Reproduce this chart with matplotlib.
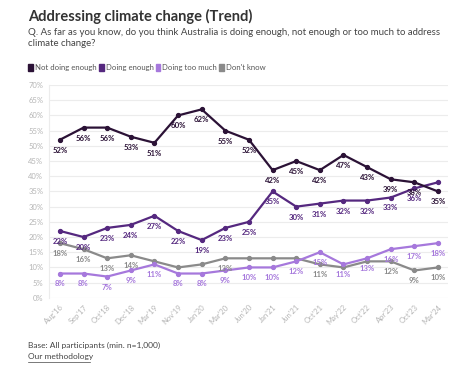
import matplotlib.pyplot as plt
from matplotlib.patches import Patch

plt.rcParams['font.family'] = ['Lato', 'DejaVu Sans']

# Survey waves
waves = ["Aug'16", "Sep'17", "Oct'18", "Dec'18", "Mar'19", "Nov'19", "Jan'20", "Mar'20",
         "Jun'20", "Jan'21", "Jun'21", "Oct'21", "May'22", "Oct'22", "Apr'23", "Oct'23", "Mar'24"]

not_enough = [52, 56, 56, 53, 51, 60, 62, 55, 52, 42, 45, 42, 47, 43, 39, 38, 35]
doing_enough = [22, 20, 23, 24, 27, 22, 19, 23, 25, 35, 30, 31, 32, 32, 33, 36, 38]
too_much = [8, 8, 7, 9, 11, 8, 8, 9, 10, 10, 12, 15, 11, 13, 16, 17, 18]
dont_know = [18, 16, 13, 14, 12, 10, 11, 13, 13, 13, 13, 11, 10, 12, 12, 9, 10]

series_names = ['Not doing enough', 'Doing enough', 'Doing too much', "Don't know"]
series_colors = ['#2b1236', '#55287f', '#a678dc', '#8a8a8a']
label_colors = ['#2b1236', '#55287f', '#a678dc', '#8a8a8a']

# which data labels are hidden in the original (overlaps)
hidden = {
    1: [16],
    3: [4, 5, 6, 8, 9, 10, 12, 13],
}

fig = plt.figure(figsize=(4.74, 3.65), dpi=100)
ax = fig.add_axes([0.103, 0.184, 0.842, 0.583])

x = list(range(len(waves)))
all_series = [not_enough, doing_enough, too_much, dont_know]

for i, (vals, col) in enumerate(zip(all_series, series_colors)):
    ax.plot(x, vals, color=col, lw=1.6, marker='o', ms=2.8, zorder=3 + (3 - i))
    for j, v in enumerate(vals):
        if j in hidden.get(i, []):
            continue
        ax.annotate(f'{v}%', (j, v), xytext=(0, -5), textcoords='offset points',
                    ha='center', va='top', fontsize=5.6, fontweight='bold',
                    color=label_colors[i], zorder=10)

ax.set_ylim(0, 70)
ax.set_xlim(-0.47, 16.42)
ax.set_yticks(range(0, 71, 5))
ax.set_yticklabels([f'{t}%' for t in range(0, 71, 5)])
ax.set_xticks(x)
ax.set_xticklabels(waves, rotation=45, ha='right', rotation_mode='anchor')
ax.tick_params(axis='both', length=0, labelsize=5.5, colors='#b5b5b5', pad=4)
ax.grid(axis='y', color='#ececec', lw=0.8)
ax.set_axisbelow(True)
for s in ['top', 'right', 'bottom']:
    ax.spines[s].set_visible(False)
ax.spines['left'].set_color('#ececec')

fig.text(0.059, 0.955, 'Addressing climate change (Trend)', fontsize=10.5,
         fontweight='bold', color='#333333', va='center')
fig.text(0.059, 0.895, 'Q. As far as you know, do you think Australia is doing enough, not enough or too much to address\nclimate change?',
         fontsize=6.9, color='#444444', va='center', linespacing=1.3)

handles = [Patch(facecolor=c, edgecolor=c) for c in series_colors]
fig.legend(handles, series_names, loc='center left', bbox_to_anchor=(0.045, 0.815),
           ncol=4, frameon=False, fontsize=5.6, handlelength=0.6, handleheight=0.9,
           handletextpad=0.25, columnspacing=0.3, labelcolor='#555555')

fig.text(0.059, 0.055, 'Base: All participants (min. n=1,000)', fontsize=6, color='#444444', va='center')
fig.text(0.059, 0.022, 'Our methodology', fontsize=6, color='#444444', va='center')
fig.add_artist(plt.Line2D([0.059, 0.19], [0.008, 0.008], color='#444444', lw=0.5))

fig.savefig('out.png', dpi=100)
